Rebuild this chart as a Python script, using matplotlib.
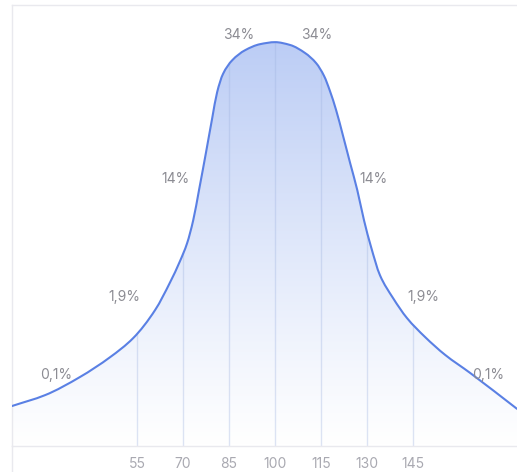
import numpy as np
import matplotlib.pyplot as plt
from matplotlib.path import Path
from matplotlib.patches import PathPatch
from matplotlib.lines import Line2D
from matplotlib.colors import LinearSegmentedColormap

plt.rcParams['font.family'] = ['Inter', 'DejaVu Sans']

# curve outline (IQ score, relative height with peak = 100)
curve_iq = [14.2, 25.0, 36.4, 46.2, 53.7, 60.9, 65.8, 69.0, 71.3, 73.3, 75.2, 77.5, 79.5, 81.1, 83.0, 86.0, 90.2, 95.1,
            100,
            104.9, 109.8, 113.4, 116.0, 117.9, 119.9, 122.2, 124.5, 126.8, 129.0, 131.3, 134.2, 138.5, 143.0, 148.9,
            155.4, 163.6, 178.9]
curve_h = [9.9, 12.6, 17.1, 22.0, 26.7, 33.7, 40.6, 45.8, 50.2, 55.9, 63.4, 72.8, 81.2, 87.6, 92.1, 95.5, 98.0, 99.5,
           100,
           99.3, 97.3, 94.8, 91.6, 87.9, 83.2, 76.7, 70.0, 63.4, 55.9, 49.3, 42.3, 36.6, 31.7, 27.0,
           22.6, 18.1, 9.2]

ticks = [55, 70, 85, 100, 115, 130, 145]
tick_labels = ['55', '70', '85', '100', '115', '130', '145']

pct_labels = ['0,1%', '1,9%', '14%', '34%', '34%', '14%', '1,9%', '0,1%']
pct_iq = [28.6, 50.8, 67.4, 88.1, 113.7, 132.0, 148.3, 169.5]
pct_h = [17.6, 36.9, 66.1, 101.7, 101.7, 66.1, 36.9, 17.6]

line_col = '#5a80e4'
top_fill = '#bccdf5'
frame_col = '#e9e9ee'


def smooth_path(xs, ys, close=False):
    # monotone cubic (fritsch-carlson) through the points, as bezier segments
    x = np.asarray(xs, float)
    y = np.asarray(ys, float)
    h = np.diff(x)
    d = np.diff(y) / h
    m = np.zeros_like(y)
    m[0], m[-1] = d[0], d[-1]
    for k in range(1, len(x) - 1):
        if d[k - 1] * d[k] > 0:
            w1 = 2 * h[k] + h[k - 1]
            w2 = h[k] + 2 * h[k - 1]
            m[k] = (w1 + w2) / (w1 / d[k - 1] + w2 / d[k])
    verts = [(x[0], y[0])]
    codes = [Path.MOVETO]
    for k in range(len(x) - 1):
        verts += [(x[k] + h[k] / 3, y[k] + m[k] * h[k] / 3),
                  (x[k + 1] - h[k] / 3, y[k + 1] - m[k + 1] * h[k] / 3),
                  (x[k + 1], y[k + 1])]
        codes += [Path.CURVE4] * 3
    if close:
        verts += [(x[-1], 0), (x[0], 0), (x[0], 0)]
        codes += [Path.LINETO, Path.LINETO, Path.CLOSEPOLY]
    return Path(verts, codes)


fig = plt.figure(figsize=(5.17, 4.72), dpi=100)
ax = fig.add_axes([12 / 517, 26 / 472, 1 - 12 / 517, 441 / 472])
ax.set_xlim(14.2, 178.9)
ax.set_ylim(0, 109.2)

# gradient area under the curve
area = PathPatch(smooth_path(curve_iq, curve_h, close=True), facecolor='none', edgecolor='none')
ax.add_patch(area)
cmap = LinearSegmentedColormap.from_list('fade', ['#ffffff', top_fill])
grad = np.linspace(0, 1, 256).reshape(-1, 1) ** 1.1
img = ax.imshow(grad, cmap=cmap, extent=(14.2, 178.9, 0, 100), origin='lower',
                aspect='auto', zorder=1, interpolation='bilinear')
img.set_clip_path(area)

# vertical grid only inside the area
for t in ticks:
    gl = ax.axvline(t, color='#9fb3e0', alpha=0.35, lw=1, zorder=2)
    gl.set_clip_path(area)

ax.add_patch(PathPatch(smooth_path(curve_iq, curve_h), facecolor='none',
                       edgecolor=line_col, lw=1.5, zorder=3, capstyle='round'))

for lab, x, y in zip(pct_labels, pct_iq, pct_h):
    ax.text(x, y, lab, ha='center', va='center', fontsize=10, color='#8c8c93', zorder=4)

ax.set_xticks(ticks, tick_labels)
ax.tick_params(axis='x', length=0, pad=8, labelsize=10, labelcolor='#a9a9b1')
ax.set_yticks([])
for side in ['top', 'left', 'bottom']:
    ax.spines[side].set_color(frame_col)
    ax.spines[side].set_linewidth(1)
ax.spines['right'].set_visible(False)

# left border continues below the baseline
fig.add_artist(Line2D([12 / 517, 12 / 517], [0, 26 / 472], color=frame_col, lw=1))

fig.savefig('out.png', dpi=100)
